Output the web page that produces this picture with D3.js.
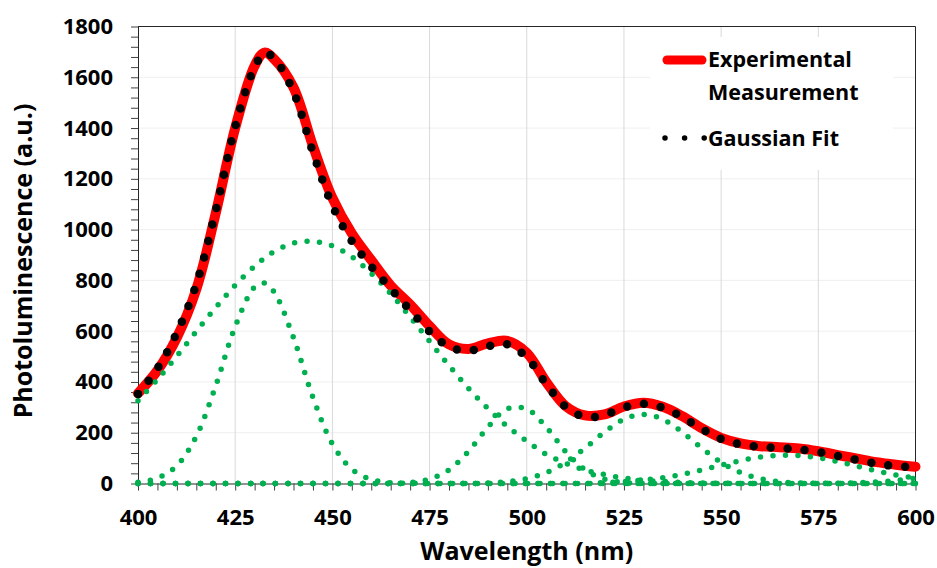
<!DOCTYPE html>
<html>
<head>
<meta charset="utf-8">
<title>Photoluminescence</title>
<script src="https://cdn.jsdelivr.net/npm/d3@7"></script>
<style>
body { margin: 0; background: #fff; }
text { font-family: "Open Sans", sans-serif; font-weight: bold; fill: #000; }
</style>
</head>
<body>
<script>
var wavelength = [400, 405, 410, 415, 420, 425, 430, 432.5, 435, 440, 445, 450, 455, 460, 465, 470, 475, 480, 485, 490, 495, 500,
                  505, 510, 515, 520, 525, 530, 535, 540, 545, 550, 555, 560, 565, 570, 575, 580, 585, 590, 595, 600];

var experimental = [355, 445, 575, 765, 1065, 1400, 1645, 1697, 1672, 1560, 1330, 1125, 985, 880, 780, 705, 620, 548, 530, 552, 562, 515,
                    400, 305, 268, 272, 303, 318, 302, 265, 218, 180, 158, 147, 143, 138, 127, 112, 98, 84, 74, 66];

var gaussianFit = [353, 453, 594, 785, 1075, 1405, 1640, 1695, 1675, 1543, 1305, 1095, 955, 855, 768, 682, 599, 538, 523, 541, 548, 497,
                   392, 302, 262, 270, 300, 314, 298, 262, 215, 176, 154, 145, 140, 134, 124, 109, 93, 78, 68, 64];

// individual gaussian components
var peak432 = [5, 21, 70, 186, 385, 618, 774, 790, 755, 574, 339, 156, 56, 16, 3, 1, 0, 0, 0, 0, 0, 0,
               0, 0, 0, 0, 0, 0, 0, 0, 0, 0, 0, 0, 0, 0, 0, 0, 0, 0, 0, 0];
var peak444 = [326, 410, 502, 599, 693, 781, 856, 887, 913, 947, 954, 936, 893, 828, 748, 656, 560, 465, 375, 295, 225, 167,
               115, 80, 53, 35, 22, 13, 8, 4, 2, 1, 0, 0, 0, 0, 0, 0, 0, 0, 0, 0];
var peak497 = [0, 0, 0, 0, 0, 0, 0, 0, 0, 0, 0, 0, 0, 0, 0, 4, 17, 54, 126, 222, 294, 294,
               222, 126, 54, 17, 4, 1, 0, 0, 0, 0, 0, 0, 0, 0, 0, 0, 0, 0, 0, 0];
var peak530 = [0, 0, 0, 0, 0, 0, 0, 0, 0, 0, 0, 0, 0, 0, 0, 0, 0, 0, 0, 2, 7, 19,
               43, 83, 140, 202, 253, 272, 253, 202, 140, 83, 43, 19, 7, 2, 1, 0, 0, 0, 0, 0];
var peak567 = [0, 0, 0, 0, 0, 0, 0, 0, 0, 0, 0, 0, 0, 0, 0, 0, 0, 0, 0, 0, 0, 0,
               0, 0, 0, 4, 7, 14, 23, 36, 53, 72, 90, 104, 111, 110, 101, 86, 68, 50, 33, 21];
var peak615 = [0, 0, 0, 0, 0, 0, 0, 0, 0, 0, 0, 0, 0, 0, 0, 0, 0, 0, 0, 0, 0, 0,
               0, 0, 0, 0, 0, 0, 0, 0, 0, 0, 0, 0, 0, 0, 0, 1, 3, 6, 12, 21];

var xTicks = [400, 425, 450, 475, 500, 525, 550, 575, 600];
var yTicks = [0, 200, 400, 600, 800, 1000, 1200, 1400, 1600, 1800];

var width = 937, height = 568;
var x = d3.scaleLinear().domain([400, 600]).range([138, 915.5]);
var y = d3.scaleLinear().domain([0, 1800]).range([483.5, 26.5]);

var svg = d3.select('body').append('svg')
  .attr('width', width)
  .attr('height', height);

// gridlines
svg.append('g').selectAll('line')
  .data(yTicks.slice(1, -1))
  .enter().append('line')
  .attr('x1', x(400)).attr('x2', x(600))
  .attr('y1', function(d) { return y(d) }).attr('y2', function(d) { return y(d) })
  .attr('stroke', '#efefef');

svg.append('g').selectAll('line')
  .data(xTicks.slice(1, -1))
  .enter().append('line')
  .attr('x1', function(d) { return x(d) }).attr('x2', function(d) { return x(d) })
  .attr('y1', y(0)).attr('y2', y(1800))
  .attr('stroke', '#d9d9d9');

// minor ticks
var xMinor = svg.append('g')
  .attr('transform', 'translate(0,' + y(0) + ')')
  .call(d3.axisBottom(x).tickValues(d3.range(400, 601, 5)).tickSize(7).tickSizeOuter(0).tickFormat(''));
var yMinor = svg.append('g')
  .attr('transform', 'translate(' + x(400) + ',0)')
  .call(d3.axisLeft(y).tickValues(d3.range(0, 1801, 40)).tickSize(7).tickSizeOuter(0).tickFormat(''));
[xMinor, yMinor].forEach(function(g) {
  g.selectAll('line').attr('stroke', '#404040');
  g.select('.domain').attr('stroke', '#262626');
});

// labels
var xLab = svg.append('g')
  .attr('transform', 'translate(0,' + y(0) + ')')
  .call(d3.axisBottom(x).tickValues(xTicks).tickSize(0).tickPadding(26).tickFormat(d3.format('d')));
var yLab = svg.append('g')
  .attr('transform', 'translate(' + x(400) + ',0)')
  .call(d3.axisLeft(y).tickValues(yTicks).tickSize(0).tickPadding(25).tickFormat(d3.format('d')));
[xLab, yLab].forEach(function(g) {
  g.select('.domain').remove();
  g.selectAll('text').style('font-family', '"Open Sans", sans-serif')
    .style('font-weight', 'bold').style('font-size', '22px').attr('fill', '#000');
});

// plot border top / right
svg.append('path')
  .attr('d', 'M' + x(400) + ',' + y(1800) + 'H' + x(600) + 'V' + y(0))
  .attr('fill', 'none').attr('stroke', '#262626');

var line = function(vals) {
  return d3.line()
    .x(function(d, i) { return x(wavelength[i]) })
    .y(function(d) { return y(d) })
    .curve(d3.curveCatmullRom)(vals);
};

svg.append('path')
  .attr('d', line(experimental))
  .attr('fill', 'none').attr('stroke', '#ff0000')
  .attr('stroke-width', 10).attr('stroke-linejoin', 'round').attr('stroke-linecap', 'round');

[peak432, peak444, peak497, peak530, peak567, peak615].forEach(function(s) {
  svg.append('path')
    .attr('d', line(s))
    .attr('fill', 'none').attr('stroke', '#00b050')
    .attr('stroke-width', 5.5).attr('stroke-linecap', 'round')
    .attr('stroke-dasharray', '0 12.5');
});

svg.append('path')
  .attr('d', line(gaussianFit))
  .attr('fill', 'none').attr('stroke', '#000')
  .attr('stroke-width', 8.5).attr('stroke-linecap', 'round')
  .attr('stroke-dasharray', '0 17');

// axis titles
svg.append('text')
  .attr('x', (x(400) + x(600)) / 2).attr('y', 560)
  .attr('text-anchor', 'middle').style('font-size', '25px')
  .text('Wavelength (nm)');
svg.append('text')
  .attr('transform', 'translate(32,261) rotate(-90)')
  .attr('text-anchor', 'middle').style('font-size', '25px')
  .text('Photoluminescence (a.u.)');

// legend
var lg = svg.append('g');
lg.append('rect').attr('x', 650).attr('y', 37).attr('width', 243).attr('height', 133).attr('fill', '#fff');
lg.append('line').attr('x1', 667).attr('x2', 702).attr('y1', 60).attr('y2', 60)
  .attr('stroke', '#ff0000').attr('stroke-width', 9).attr('stroke-linecap', 'round');
lg.append('line').attr('x1', 665).attr('x2', 705).attr('y1', 138).attr('y2', 138)
  .attr('stroke', '#000').attr('stroke-width', 5.5).attr('stroke-linecap', 'round')
  .attr('stroke-dasharray', '0 19.6');
lg.append('text').attr('x', 708).attr('y', 67).style('font-size', '21.5px').text('Experimental');
lg.append('text').attr('x', 708).attr('y', 99.5).style('font-size', '21.5px').text('Measurement');
lg.append('text').attr('x', 708).attr('y', 146).style('font-size', '21.5px').text('Gaussian Fit');
</script>
</body>
</html>
